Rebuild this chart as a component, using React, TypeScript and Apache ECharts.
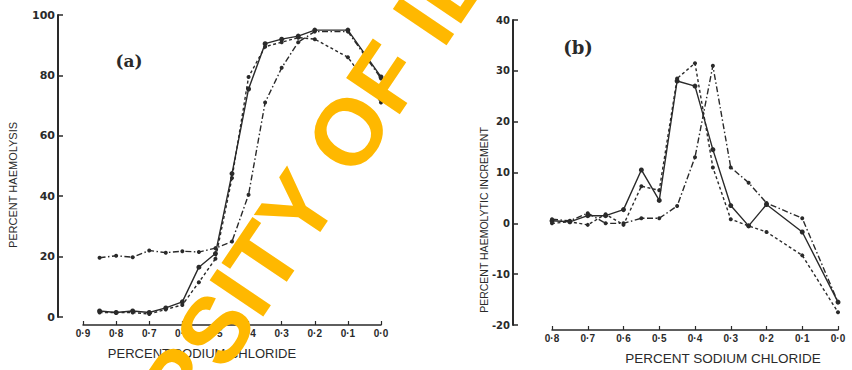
import React, { useEffect, useRef } from "react";
import * as echarts from "echarts";

// ---- Panel (a): percent haemolysis vs percent NaCl ----
const xA = [0.85, 0.8, 0.75, 0.7, 0.65, 0.6, 0.55, 0.5, 0.45, 0.4, 0.35, 0.3, 0.25, 0.2, 0.1, 0.0];
const solidA = [2, 1.5, 2, 1.5, 3, 5, 16.5, 21, 47.5, 75.5, 90.5, 92, 93, 95, 95, 79.5];
const dashedA = [1.5, 1.5, 1.5, 1, 2.5, 4, 11.5, 19.3, 46, 79.5, 89.5, 91, 92.5, 92, 86, 71];
const dashDotA = [19.6, 20.3, 19.8, 22, 21.3, 21.8, 21.5, 22.8, 25, 40.5, 71, 82.5, 91, 94.5, 94.5, 79];

// ---- Panel (b): percent haemolytic increment ----
const xB = [0.8, 0.75, 0.7, 0.65, 0.6, 0.55, 0.5, 0.45, 0.4, 0.35, 0.3, 0.25, 0.2, 0.1, 0.0];
const solidB = [0.5, 0.3, 1.5, 1.5, 2.7, 10.5, 4.5, 28, 27, 14.5, 3.5, -0.5, 3.7, -1.7, -15.5];
const dashedB = [0, 0.3, -0.3, 1.8, -0.3, 7.3, 6.5, 28.5, 31.5, 11, 0.8, -0.5, -1.7, -6.3, -17.5];
const dashDotB = [0.8, 0.5, 2, 0, 0, 1, 1, 3.4, 13, 31, 11, 8, 4, 1, -15.5];

const xName = "PERCENT SODIUM CHLORIDE";
const yNameA = "PERCENT HAEMOLYSIS";
const yNameB = "PERCENT HAEMOLYTIC INCREMENT";
const watermark = "UNIVERSITY OF IBADAN";

const INK = "#2a2a2a";
const DASH = [3, 2.5];
const DASHDOT = [6, 2.5, 1.5, 2.5];

const pair = (xs: number[], ys: number[]) => xs.map((x, i) => [x, ys[i]]);
const fmtX = (v: number) => v.toFixed(1).replace(".", "\u00b7");

function mkSeries(data: number[][], type: any, axis: number, size: number) {
  return {
    type: "line",
    xAxisIndex: axis,
    yAxisIndex: axis,
    data,
    symbol: "circle",
    symbolSize: size,
    lineStyle: { color: INK, width: 1.4, type },
    itemStyle: { color: INK },
    silent: true,
  };
}

export default function App() {
  const ref = useRef<HTMLDivElement>(null);
  useEffect(() => {
    if (!ref.current) return;
    const chart = echarts.init(ref.current, undefined, { renderer: "svg" });
    const axisLabelX = {
      formatter: fmtX,
      margin: 3,
      color: INK,
      fontFamily: "Liberation Sans",
      fontWeight: "bold",
      fontSize: 10,
    };
    const axisLabelY = {
      margin: 3,
      color: INK,
      fontFamily: "DejaVu Sans",
      fontWeight: "bold",
      fontSize: 11,
    };
    chart.setOption({
      animation: false,
      backgroundColor: "#ffffff",
      grid: [
        { left: 83, right: 471, top: 15, bottom: 53 },
        { left: 552, right: 14, top: 20, bottom: 40 },
      ],
      xAxis: [
        {
          gridIndex: 0,
          type: "value",
          inverse: true,
          min: 0,
          max: 0.9,
          interval: 0.1,
          position: "bottom",
          offset: 8,
          axisLine: { onZero: false, lineStyle: { color: INK, width: 1.5 } },
          axisTick: { inside: true, length: 4, lineStyle: { color: INK, width: 1.2 } },
          axisLabel: axisLabelX,
          splitLine: { show: false },
          name: xName,
          nameLocation: "middle",
          nameGap: 22,
          nameTextStyle: {
            color: INK,
            fontFamily: "Liberation Sans",
            fontSize: 13,
            padding: [0, 60, 0, 0],
          },
        },
        {
          gridIndex: 1,
          type: "value",
          inverse: true,
          min: 0,
          max: 0.8,
          interval: 0.1,
          position: "bottom",
          offset: 5,
          axisLine: { onZero: false, lineStyle: { color: INK, width: 1.5 } },
          axisTick: { inside: true, length: 4, lineStyle: { color: INK, width: 1.2 } },
          axisLabel: axisLabelX,
          splitLine: { show: false },
          name: xName,
          nameLocation: "middle",
          nameGap: 21,
          nameTextStyle: {
            color: INK,
            fontFamily: "Liberation Sans",
            fontSize: 13.5,
            padding: [0, 0, 0, 56],
          },
        },
      ],
      yAxis: [
        {
          gridIndex: 0,
          type: "value",
          min: 0,
          max: 100,
          interval: 20,
          position: "left",
          offset: 25,
          axisLine: { show: true, onZero: false, lineStyle: { color: INK, width: 2 } },
          axisTick: { show: true, inside: true, length: 5, lineStyle: { color: INK, width: 1.5 } },
          axisLabel: axisLabelY,
          splitLine: { show: false },
        },
        {
          gridIndex: 1,
          type: "value",
          min: -20,
          max: 40,
          interval: 10,
          position: "left",
          offset: 39,
          axisLine: { show: true, onZero: false, lineStyle: { color: INK, width: 2 } },
          axisTick: { show: true, inside: true, length: 5, lineStyle: { color: INK, width: 1.5 } },
          axisLabel: { ...axisLabelY, fontSize: 10 },
          splitLine: { show: false },
        },
      ],
      series: [
        mkSeries(pair(xA, dashDotA), DASHDOT, 0, 4),
        mkSeries(pair(xA, dashedA), DASH, 0, 4),
        mkSeries(pair(xA, solidA), "solid", 0, 5),
        mkSeries(pair(xB, dashDotB), DASHDOT, 1, 4),
        mkSeries(pair(xB, dashedB), DASH, 1, 4),
        mkSeries(pair(xB, solidB), "solid", 1, 5),
      ],
      graphic: [
        {
          type: "text",
          x: 129,
          y: 61,
          style: {
            text: "(a)",
            fill: INK,
            fontFamily: "DejaVu Serif",
            fontWeight: "bold",
            fontSize: 17,
            align: "center",
            verticalAlign: "middle",
          },
        },
        {
          type: "text",
          x: 578,
          y: 47,
          style: {
            text: "(b)",
            fill: INK,
            fontFamily: "DejaVu Serif",
            fontWeight: "bold",
            fontSize: 18,
            align: "center",
            verticalAlign: "middle",
          },
        },
        {
          type: "text",
          x: 13,
          y: 185,
          rotation: Math.PI / 2,
          style: {
            text: yNameA,
            fill: INK,
            fontFamily: "Liberation Sans",
            fontSize: 11,
            align: "center",
            verticalAlign: "middle",
          },
        },
        {
          type: "text",
          x: 484,
          y: 220,
          rotation: Math.PI / 2,
          style: {
            text: yNameB,
            fill: INK,
            fontFamily: "Liberation Sans",
            fontSize: 10.5,
            align: "center",
            verticalAlign: "middle",
          },
        },
        {
          type: "text",
          x: 350,
          y: 130,
          rotation: 0.977,
          z: 100,
          style: {
            text: watermark,
            x: -627,
            y: 0,
            fill: "#FFB800",
            fontFamily: "Liberation Sans",
            fontWeight: "bold",
            fontSize: 94,
            align: "left",
            verticalAlign: "middle",
          },
        },
      ],
    });
    return () => chart.dispose();
  }, []);
  return (
    <div
      ref={ref}
      style={{ position: "fixed", left: 0, top: 0, width: 852, height: 370, background: "#fff" }}
    />
  );
}
